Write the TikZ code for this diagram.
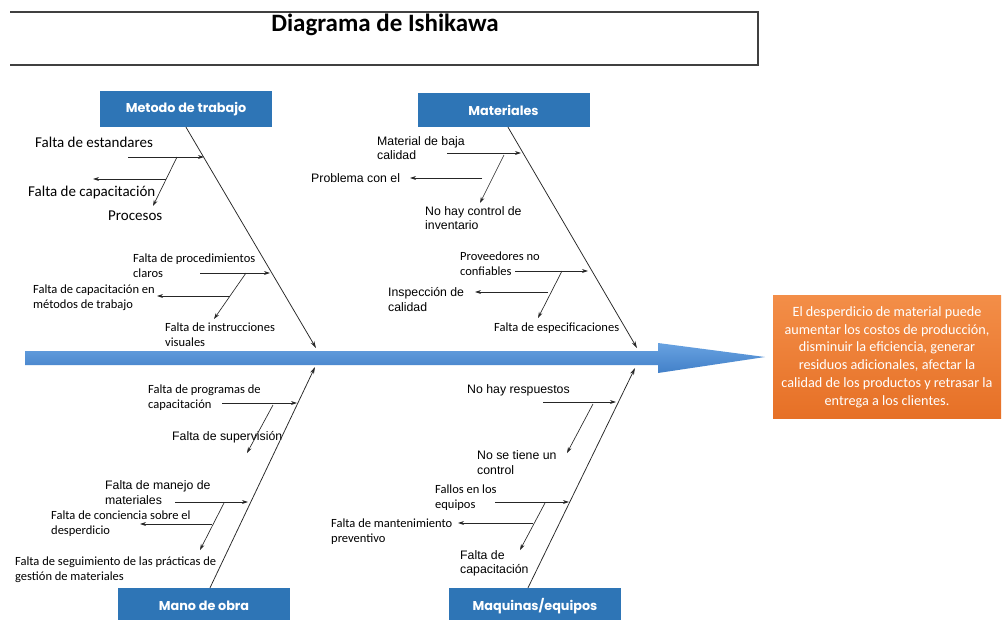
\documentclass[tikz,border=0pt]{standalone}
\usepackage{fontspec}
\setmainfont{Carlito}
\newfontfamily\arialfont{Liberation Sans}
\newfontfamily\catfont{Poppins}
\usetikzlibrary{arrows.meta}
\definecolor{catblue}{RGB}{46,117,182}
\definecolor{spinetop}{RGB}{104,162,225}
\definecolor{spinebot}{RGB}{66,128,200}
\definecolor{effecttop}{RGB}{243,142,72}
\definecolor{effectbot}{RGB}{230,112,38}
\tikzset{
  cat/.style={fill=catblue, text=white, minimum width=172pt, minimum height=36pt,
    font=\catfont\bfseries\fontsize{12.8}{14}\selectfont},
  cause/.style={anchor=west, align=left, inner sep=0pt, font=\fontsize{12.5}{15}\selectfont},
  bigcause/.style={cause, font=\fontsize{15}{17}\selectfont},
  acause/.style={cause, font=\arialfont\fontsize{12.3}{14.5}\selectfont},
  bone/.style={line width=0.75pt, draw=black!85, -{Stealth[length=7pt,width=4pt]}},
  twig/.style={line width=0.65pt, draw=black!85, -{Stealth[length=6pt,width=3.8pt]}},
}
\begin{document}
\begin{tikzpicture}[x=1pt,y=-1pt]
  \clip (0,0) rectangle (1002,619);
  \fill[white] (0,0) rectangle (1002,619);

  % title
  \draw[line width=1.3pt, draw=black!75] (10,12) -- (758,12) -- (758,65) -- (10,65);
  \node[font=\bfseries\fontsize{25}{28}\selectfont] (title) at (385,25) {Diagrama de Ishikawa};

  % spine
  \shade[top color=spinetop, bottom color=spinebot]
    (25,351) -- (658,351) -- (658,343) -- (765,357) -- (658,373) -- (658,365) -- (25,365) -- cycle;

  % effect
  \node[top color=effecttop, bottom color=effectbot, text=white, minimum width=228pt,
    minimum height=123pt, align=center, font=\fontsize{14.2}{17.8}\selectfont] (effect) at (887,357)
    {El desperdicio de material puede\\aumentar los costos de producción,\\disminuir la eficiencia, generar\\residuos adicionales, afectar la\\calidad de los productos y retrasar la\\entrega a los clientes.};

  % categories
  \node[cat] (metodo) at (186,109) {Metodo de trabajo};
  \node[cat, minimum height=34pt] (materiales) at (503.5,110) {Materiales};
  \node[cat] (mano) at (204,606) {Mano de obra};
  \node[cat] (maquinas) at (535,606) {Maquinas/equipos};

  % causes
  \node[bigcause] (estandares) at (35,142) {Falta de estandares};
  \node[bigcause] (capacitacion) at (28,192) {Falta de capacitación};
  \node[bigcause] (procesos) at (108,216) {Procesos};
  \node[cause] (procedimientos) at (133,265.5) {Falta de procedimientos\\claros};
  \node[cause] (capmetodos) at (33,297.5) {Falta de capacitación en\\métodos de trabajo};
  \node[cause] (instrucciones) at (165,335) {Falta de instrucciones\\visuales};

  \node[acause] (bajacalidad) at (377,148) {Material de baja\\calidad};
  \node[acause] (problema) at (311,178) {Problema con el};
  \node[acause] (inventario) at (425,218) {No hay control de\\inventario};
  \node[cause] (proveedores) at (460,263.5) {Proveedores no\\confiables};
  \node[acause] (inspeccion) at (388,299.5) {Inspección de\\calidad};
  \node[cause] (especificaciones) at (494,328) {Falta de especificaciones};

  \node[cause] (programas) at (148,397.5) {Falta de programas de\\capacitación};
  \node[acause] (supervision) at (172,437) {Falta de supervisión};
  \node[acause] (manejo) at (105,492.5) {Falta de manejo de\\materiales};
  \node[cause] (conciencia) at (51,523.5) {Falta de conciencia sobre el\\desperdicio};
  \node[cause] (seguimiento) at (15,569.5) {Falta de seguimiento de las prácticas de\\gestión de materiales};

  \node[acause] (respuestos) at (467,390) {No hay respuestos};
  \node[acause] (control) at (477,462.5) {No se tiene un\\control};
  \node[cause] (fallos) at (435,497.5) {Fallos en los\\equipos};
  \node[cause] (mantenimiento) at (331,531.5) {Falta de mantenimiento\\preventivo};
  \node[acause] (capequipos) at (460,563.5) {Falta de\\capacitación};

  % bone ends
  \path
    (316,348) coordinate (mtend)
    (637,348) coordinate (maend)
    (315,367) coordinate (moend)
    (635,368) coordinate (mqend)
    (128,157) coordinate (t1a) (204,157) coordinate (t1b)
    (177,157) coordinate (t1c) (153,206) coordinate (t1d)
    (166,179) coordinate (t1e) (93,179) coordinate (t1f)
    (200,273) coordinate (t2a) (270,273) coordinate (t2b)
    (246,273) coordinate (t2c) (214,319) coordinate (t2d)
    (230,296) coordinate (t2e) (157,296) coordinate (t2f)
    (447,153) coordinate (m1a) (521,153) coordinate (m1b)
    (504,155) coordinate (m1c) (480,203) coordinate (m1d)
    (482,178) coordinate (m1e) (410,178) coordinate (m1f)
    (515,271) coordinate (m2a) (588,271) coordinate (m2b)
    (562,271) coordinate (m2c) (538,318) coordinate (m2d)
    (548,292) coordinate (m2e) (475,292) coordinate (m2f)
    (222,403) coordinate (o1a) (297,403) coordinate (o1b)
    (273,405) coordinate (o1c) (247,453) coordinate (o1d)
    (175,502) coordinate (o2a) (248,502) coordinate (o2b)
    (224,503) coordinate (o2c) (200,550) coordinate (o2d)
    (212,524) coordinate (o2e) (140,524) coordinate (o2f)
    (543,402) coordinate (q1a) (616,402) coordinate (q1b)
    (593,404) coordinate (q1c) (567,453) coordinate (q1d)
    (495,502) coordinate (q2a) (569,502) coordinate (q2b)
    (545,503) coordinate (q2c) (520,550) coordinate (q2d)
    (533,523) coordinate (q2e) (458,523) coordinate (q2f);

  \begin{scope}[bone]
    \draw (metodo.south) to (mtend);
    \draw ([xshift=4.5pt]materiales.south) to (maend);
    \draw ([xshift=6pt]mano.north) to (moend);
    \draw ([xshift=-7pt]maquinas.north) to (mqend);
  \end{scope}
  \begin{scope}[twig]
    \draw (t1a) to (t1b);
    \draw (t1c) to (t1d);
    \draw (t1e) to (t1f);
    \draw (t2a) to (t2b);
    \draw (t2c) to (t2d);
    \draw (t2e) to (t2f);
    \draw (m1a) to (m1b);
    \draw (m1c) to (m1d);
    \draw (m1e) to (m1f);
    \draw (m2a) to (m2b);
    \draw (m2c) to (m2d);
    \draw (m2e) to (m2f);
    \draw (o1a) to (o1b);
    \draw (o1c) to (o1d);
    \draw (o2a) to (o2b);
    \draw (o2c) to (o2d);
    \draw (o2e) to (o2f);
    \draw (q1a) to (q1b);
    \draw (q1c) to (q1d);
    \draw (q2a) to (q2b);
    \draw (q2c) to (q2d);
    \draw (q2e) to (q2f);
  \end{scope}
\end{tikzpicture}
\end{document}
